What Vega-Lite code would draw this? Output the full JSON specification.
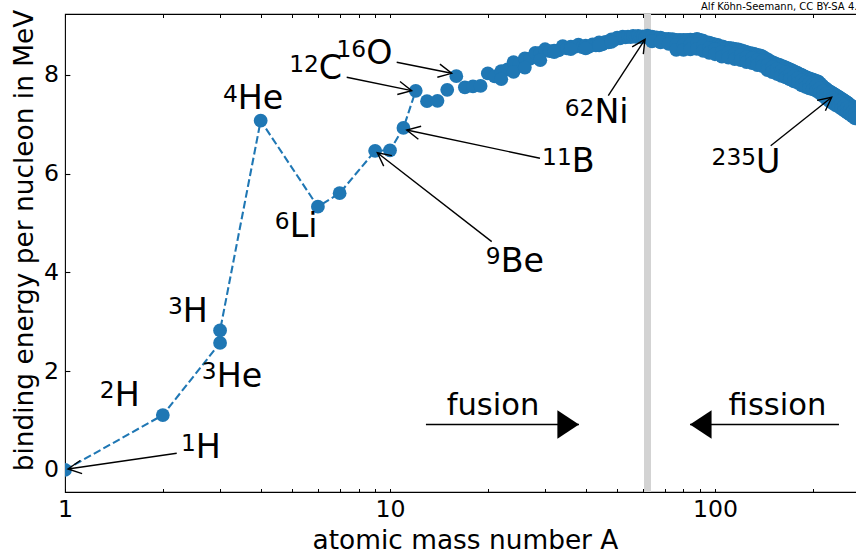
{
  "$schema": "https://vega.github.io/schema/vega-lite/v6.json",
  "width": 792,
  "height": 478,
  "autosize": {"type": "none"},
  "padding": {"left": 65, "top": 14, "right": 0, "bottom": 65},
  "config": {"font": "DejaVu Sans", "view": {"stroke": "black", "strokeWidth": 1.1}, "axis": {"grid": false, "labelOverlap": false, "labelFlush": false, "labelBound": false}},
  "datasets": {
    "band62": [{"A": 62}],
    "credit": [{"t": "Alf Köhn-Seemann, CC BY-SA 4.0", "A": 90.57, "E": 9.3165}],
    "pts": [
      {"A":1,"E":0,"s":"l","i":1},{"A":2,"E":1.112,"s":"l","i":2},{"A":3,"E":2.573,"s":"l","i":3},{"A":3,"E":2.827,"s":"l","i":4},{"A":4,"E":7.074,"s":"l","i":5},{"A":6,"E":5.332,"s":"l","i":6},{"A":7,"E":5.606,"s":"l","i":7},{"A":9,"E":6.463,"s":"l","i":8},{"A":10,"E":6.475,"s":"l","i":9},{"A":11,"E":6.928,"s":"l","i":10},{"A":12,"E":7.68,"s":"l","i":11},
      {"A":13,"E":7.47,"s":"b"},{"A":14,"E":7.476,"s":"b"},{"A":15,"E":7.699,"s":"b"},{"A":16,"E":7.976,"s":"b"},{"A":17,"E":7.751,"s":"b"},{"A":18,"E":7.767,"s":"b"},{"A":19,"E":7.779,"s":"b"},{"A":20,"E":8.032,"s":"b"},{"A":21,"E":7.972,"s":"b"},{"A":22,"E":8.08,"s":"b"},{"A":23,"E":8.112,"s":"b"},{"A":24,"E":8.261,"s":"b"},{"A":25,"E":8.224,"s":"b"},{"A":26,"E":8.334,"s":"b"},{"A":27,"E":8.332,"s":"b"},{"A":28,"E":8.448,"s":"b"},{"A":29,"E":8.449,"s":"b"},{"A":30,"E":8.521,"s":"b"},{"A":31,"E":8.481,"s":"b"},{"A":32,"E":8.493,"s":"b"},{"A":33,"E":8.498,"s":"b"},{"A":34,"E":8.584,"s":"b"},{"A":35,"E":8.538,"s":"b"},{"A":36,"E":8.576,"s":"b"},{"A":37,"E":8.57,"s":"b"},{"A":38,"E":8.614,"s":"b"},{"A":39,"E":8.563,"s":"b"},{"A":40,"E":8.595,"s":"b"},{"A":41,"E":8.576,"s":"b"},{"A":42,"E":8.617,"s":"b"},{"A":43,"E":8.601,"s":"b"},{"A":44,"E":8.658,"s":"b"},{"A":45,"E":8.619,"s":"b"},{"A":46,"E":8.669,"s":"b"},{"A":47,"E":8.661,"s":"b"},{"A":48,"E":8.723,"s":"b"},{"A":49,"E":8.711,"s":"b"},{"A":50,"E":8.756,"s":"b"},{"A":51,"E":8.742,"s":"b"},{"A":52,"E":8.776,"s":"b"},{"A":53,"E":8.76,"s":"b"},{"A":54,"E":8.778,"s":"b"},{"A":55,"E":8.765,"s":"b"},{"A":56,"E":8.79,"s":"b"},{"A":57,"E":8.77,"s":"b"},{"A":58,"E":8.792,"s":"b"},{"A":59,"E":8.768,"s":"b"},{"A":60,"E":8.781,"s":"b"},{"A":61,"E":8.765,"s":"b"},{"A":62,"E":8.795,"s":"b"},{"A":63,"E":8.763,"s":"b"},{"A":64,"E":8.777,"s":"b"},{"A":65,"E":8.757,"s":"b"},{"A":66,"E":8.76,"s":"b"},{"A":67,"E":8.734,"s":"b"},{"A":68,"E":8.756,"s":"b"},{"A":69,"E":8.724,"s":"b"},{"A":70,"E":8.73,"s":"b"},{"A":71,"E":8.718,"s":"b"},{"A":72,"E":8.732,"s":"b"},{"A":73,"E":8.705,"s":"b"},{"A":74,"E":8.725,"s":"b"},{"A":75,"E":8.701,"s":"b"},{"A":76,"E":8.711,"s":"b"},{"A":77,"E":8.695,"s":"b"},{"A":78,"E":8.712,"s":"b"},{"A":79,"E":8.688,"s":"b"},{"A":80,"E":8.711,"s":"b"},{"A":81,"E":8.696,"s":"b"},{"A":82,"E":8.711,"s":"b"},{"A":83,"E":8.696,"s":"b"},{"A":84,"E":8.718,"s":"b"},{"A":85,"E":8.698,"s":"b"},{"A":86,"E":8.712,"s":"b"},{"A":87,"E":8.705,"s":"b"},{"A":88,"E":8.733,"s":"b"},{"A":89,"E":8.714,"s":"b"},{"A":90,"E":8.71,"s":"b"},
      {"A":92,"E":8.693,"s":"b"},{"A":94,"E":8.667,"s":"b"},{"A":96,"E":8.654,"s":"b"},{"A":98,"E":8.635,"s":"b"},{"A":100,"E":8.619,"s":"b"},{"A":102,"E":8.607,"s":"b"},{"A":104,"E":8.584,"s":"b"},{"A":106,"E":8.574,"s":"b"},{"A":108,"E":8.55,"s":"b"},{"A":110,"E":8.551,"s":"b"},{"A":112,"E":8.545,"s":"b"},{"A":114,"E":8.532,"s":"b"},{"A":116,"E":8.523,"s":"b"},{"A":118,"E":8.516,"s":"b"},{"A":120,"E":8.505,"s":"b"},{"A":122,"E":8.488,"s":"b"},{"A":124,"E":8.473,"s":"b"},{"A":126,"E":8.455,"s":"b"},{"A":128,"E":8.443,"s":"b"},{"A":130,"E":8.437,"s":"b"},{"A":132,"E":8.428,"s":"b"},{"A":134,"E":8.414,"s":"b"},{"A":136,"E":8.4,"s":"b"},{"A":138,"E":8.393,"s":"b"},{"A":140,"E":8.376,"s":"b"},{"A":142,"E":8.346,"s":"b"},{"A":144,"E":8.327,"s":"b"},{"A":146,"E":8.304,"s":"b"},{"A":148,"E":8.277,"s":"b"},{"A":150,"E":8.262,"s":"b"},{"A":152,"E":8.244,"s":"b"},{"A":154,"E":8.227,"s":"b"},{"A":156,"E":8.215,"s":"b"},{"A":158,"E":8.202,"s":"b"},{"A":160,"E":8.184,"s":"b"},{"A":162,"E":8.173,"s":"b"},{"A":164,"E":8.158,"s":"b"},{"A":166,"E":8.142,"s":"b"},{"A":168,"E":8.13,"s":"b"},{"A":170,"E":8.112,"s":"b"},{"A":172,"E":8.097,"s":"b"},{"A":174,"E":8.084,"s":"b"},{"A":176,"E":8.064,"s":"b"},{"A":178,"E":8.052,"s":"b"},{"A":180,"E":8.035,"s":"b"},{"A":182,"E":8.018,"s":"b"},{"A":184,"E":8.005,"s":"b"},{"A":186,"E":7.991,"s":"b"},{"A":188,"E":7.973,"s":"b"},{"A":190,"E":7.962,"s":"b"},{"A":192,"E":7.948,"s":"b"},{"A":194,"E":7.936,"s":"b"},{"A":196,"E":7.922,"s":"b"},{"A":198,"E":7.914,"s":"b"},{"A":200,"E":7.906,"s":"b"},{"A":202,"E":7.897,"s":"b"},{"A":204,"E":7.88,"s":"b"},{"A":206,"E":7.875,"s":"b"},{"A":208,"E":7.867,"s":"b"},{"A":210,"E":7.834,"s":"b"},{"A":212,"E":7.805,"s":"b"},{"A":214,"E":7.782,"s":"b"},{"A":216,"E":7.756,"s":"b"},{"A":218,"E":7.735,"s":"b"},{"A":220,"E":7.717,"s":"b"},{"A":222,"E":7.695,"s":"b"},{"A":224,"E":7.68,"s":"b"},{"A":226,"E":7.662,"s":"b"},{"A":228,"E":7.646,"s":"b"},{"A":230,"E":7.631,"s":"b"},{"A":232,"E":7.615,"s":"b"},{"A":234,"E":7.601,"s":"b"},{"A":236,"E":7.586,"s":"b"},{"A":238,"E":7.57,"s":"b"},{"A":240,"E":7.556,"s":"b"},{"A":242,"E":7.541,"s":"b"},{"A":244,"E":7.525,"s":"b"},{"A":246,"E":7.51,"s":"b"},{"A":248,"E":7.497,"s":"b"},{"A":250,"E":7.482,"s":"b"},{"A":252,"E":7.465,"s":"b"},{"A":254,"E":7.45,"s":"b"},{"A":256,"E":7.434,"s":"b"},{"A":258,"E":7.416,"s":"b"},{"A":260,"E":7.399,"s":"b"},{"A":262,"E":7.381,"s":"b"},{"A":264,"E":7.366,"s":"b"},{"A":266,"E":7.349,"s":"b"},{"A":268,"E":7.333,"s":"b"},{"A":270,"E":7.316,"s":"b"},{"A":272,"E":7.3,"s":"b"},
      {"A":22,"E":7.916,"s":"b"},{"A":24,"E":8.063,"s":"b"},{"A":26,"E":8.15,"s":"b"},{"A":29,"E":8.3,"s":"b"},{"A":32,"E":8.464,"s":"b"},{"A":36,"E":8.522,"s":"b"},{"A":40,"E":8.538,"s":"b"},{"A":44,"E":8.6,"s":"b"},{"A":48,"E":8.67,"s":"b"},
      {"A":64,"E":8.68,"s":"b"},{"A":68,"E":8.66,"s":"b"},{"A":72,"E":8.63,"s":"b"},
      {"A":76,"E":8.61,"s":"b"},{"A":76,"E":8.51,"s":"b"},{"A":80,"E":8.61,"s":"b"},{"A":80,"E":8.51,"s":"b"},{"A":84,"E":8.62,"s":"b"},{"A":84,"E":8.52,"s":"b"},{"A":88,"E":8.63,"s":"b"},{"A":88,"E":8.53,"s":"b"},{"A":92,"E":8.59,"s":"b"},{"A":92,"E":8.49,"s":"b"},{"A":96,"E":8.55,"s":"b"},{"A":96,"E":8.45,"s":"b"},{"A":100,"E":8.52,"s":"b"},{"A":100,"E":8.42,"s":"b"},{"A":105,"E":8.47,"s":"b"},{"A":105,"E":8.37,"s":"b"},{"A":110,"E":8.45,"s":"b"},{"A":110,"E":8.35,"s":"b"},{"A":115,"E":8.42,"s":"b"},{"A":115,"E":8.32,"s":"b"},{"A":120,"E":8.4,"s":"b"},{"A":120,"E":8.3,"s":"b"},{"A":125,"E":8.36,"s":"b"},{"A":125,"E":8.26,"s":"b"},{"A":130,"E":8.34,"s":"b"},{"A":130,"E":8.24,"s":"b"},{"A":135,"E":8.3,"s":"b"},{"A":135,"E":8.2,"s":"b"},{"A":140,"E":8.28,"s":"b"},{"A":140,"E":8.18,"s":"b"},{"A":145,"E":8.2,"s":"b"},{"A":145,"E":8.1,"s":"b"},{"A":150,"E":8.16,"s":"b"},{"A":150,"E":8.06,"s":"b"},{"A":155,"E":8.12,"s":"b"},{"A":155,"E":8.02,"s":"b"},{"A":160,"E":8.08,"s":"b"},{"A":160,"E":7.98,"s":"b"},{"A":165,"E":8.05,"s":"b"},{"A":165,"E":7.95,"s":"b"},{"A":170,"E":8.01,"s":"b"},{"A":170,"E":7.91,"s":"b"},{"A":175,"E":7.97,"s":"b"},{"A":175,"E":7.87,"s":"b"},{"A":180,"E":7.94,"s":"b"},{"A":180,"E":7.84,"s":"b"},{"A":185,"E":7.89,"s":"b"},{"A":185,"E":7.79,"s":"b"},{"A":190,"E":7.86,"s":"b"},{"A":190,"E":7.76,"s":"b"},{"A":195,"E":7.83,"s":"b"},{"A":195,"E":7.73,"s":"b"},{"A":200,"E":7.81,"s":"b"},{"A":200,"E":7.71,"s":"b"},{"A":205,"E":7.78,"s":"b"},{"A":205,"E":7.68,"s":"b"},{"A":210,"E":7.73,"s":"b"},{"A":210,"E":7.63,"s":"b"},{"A":215,"E":7.67,"s":"b"},{"A":215,"E":7.57,"s":"b"},{"A":220,"E":7.62,"s":"b"},{"A":220,"E":7.52,"s":"b"},{"A":225,"E":7.57,"s":"b"},{"A":225,"E":7.47,"s":"b"},{"A":230,"E":7.53,"s":"b"},{"A":230,"E":7.43,"s":"b"},{"A":235,"E":7.49,"s":"b"},{"A":235,"E":7.39,"s":"b"},{"A":240,"E":7.46,"s":"b"},{"A":240,"E":7.36,"s":"b"},{"A":245,"E":7.42,"s":"b"},{"A":245,"E":7.32,"s":"b"},{"A":250,"E":7.38,"s":"b"},{"A":250,"E":7.28,"s":"b"},{"A":255,"E":7.34,"s":"b"},{"A":255,"E":7.24,"s":"b"},{"A":260,"E":7.3,"s":"b"},{"A":260,"E":7.2,"s":"b"},{"A":265,"E":7.26,"s":"b"},{"A":265,"E":7.16,"s":"b"},{"A":270,"E":7.22,"s":"b"},{"A":270,"E":7.12,"s":"b"}
    ],
    "ann": [
      {"n":"1H","sup":"1","el":"H","A":2.525,"E":0.237,"A0":2.207,"E0":0.338,"A1":1.0215,"E1":0.02},
      {"n":"2H","sup":"2","el":"H","A":1.422,"E":1.296},
      {"n":"3H","sup":"3","el":"H","A":2.303,"E":3.004},
      {"n":"3He","sup":"3","el":"He","A":2.929,"E":1.687},
      {"n":"4He","sup":"4","el":"He","A":3.4,"E":7.305},
      {"n":"6Li","sup":"6","el":"Li","A":4.913,"E":4.725},
      {"n":"9Be","sup":"9","el":"Be","A":21.91,"E":4.016,"A0":20.56,"E0":4.624,"A1":9.14,"E1":6.426},
      {"n":"11B","sup":"11","el":"B","A":36.24,"E":6.029,"A0":28.94,"E0":6.313,"A1":11.26,"E1":6.886},
      {"n":"12C","sup":"12","el":"C","A":6.041,"E":7.909,"A0":7.357,"E0":7.953,"A1":11.66,"E1":7.682},
      {"n":"16O","sup":"16","el":"O","A":8.449,"E":8.213,"A0":10.486,"E0":8.257,"A1":15.48,"E1":8.034},
      {"n":"62Ni","sup":"62","el":"Ni","A":42.56,"E":7.022,"A0":46.95,"E0":7.581,"A1":60.9,"E1":8.723},
      {"n":"235U","sup":"235","el":"U","A":133.8,"E":6.019,"A0":148.4,"E0":6.568,"A1":228.6,"E1":7.548}
    ],
    "fx": [
      {"t":"fusion","A":20.75,"E":1.114,"A0":12.9,"A1":38.15,"Ey":0.9215},
      {"t":"fission","A":155.7,"E":1.114,"A0":240.7,"A1":83.77,"Ey":0.9215}
    ]
  },
  "resolve": {"axis": {"x": "independent", "y": "independent"}},
  "layer": [
    {
      "data": {"name": "band62"},
      "mark": {"type": "rule", "color": "#d3d3d3", "strokeWidth": 7},
      "encoding": {"x": {"field": "A", "type": "quantitative", "scale": {"type": "log", "domain": [1, 273.5], "nice": false}, "axis": null}}
    },
    {
      "data": {"name": "pts"},
      "transform": [{"filter": "datum.s == 'l'"}],
      "mark": {"type": "line", "color": "#1f77b4", "strokeWidth": 2.08, "strokeDash": [7.7, 3.3], "clip": true},
      "encoding": {
        "x": {"field": "A", "type": "quantitative", "scale": {"type": "log", "domain": [1, 273.5], "nice": false},
          "axis": {"orient": "top", "values": [1,2,3,4,5,6,7,8,9,10,20,30,40,50,60,70,80,90,100,200], "labels": false, "title": null, "domain": false,
            "tickSize": -3.5, "tickColor": "black", "tickWidth": 1}},
        "y": {"field": "E", "type": "quantitative", "scale": {"domain": [-0.446, 9.235], "nice": false, "zero": false}, "axis": null},
        "order": {"field": "i"}
      }
    },
    {
      "data": {"name": "pts"},
      "mark": {"type": "circle", "color": "#1f77b4", "opacity": 1, "size": 190, "clip": true},
      "encoding": {
        "x": {"field": "A", "type": "quantitative", "scale": {"type": "log", "domain": [1, 273.5], "nice": false},
          "axis": {"orient": "bottom", "values": [1,2,3,4,5,6,7,8,9,10,20,30,40,50,60,70,80,90,100,200],
            "labelExpr": "datum.value == 1 ? '1' : datum.value == 10 ? '10' : datum.value == 100 ? '100' : ''",
            "domain": false, "tickSize": -3.5, "tickColor": "black", "tickWidth": 1,
            "labelFontSize": 23.6, "labelColor": "black", "labelPadding": 28.2, "labelBaseline": "alphabetic",
            "title": "atomic mass number A", "titleFontSize": 26.4, "titleFontWeight": "normal", "titleColor": "black",
            "titleX": 400, "titleY": 56, "titleBaseline": "alphabetic", "titleAlign": "center"}},
        "y": {"field": "E", "type": "quantitative", "scale": {"domain": [-0.446, 9.235], "nice": false, "zero": false},
          "axis": {"orient": "left", "values": [0, 2, 4, 6, 8], "domain": false, "tickSize": -4.86, "tickColor": "black", "tickWidth": 1.1,
            "labelFontSize": 23.6, "labelColor": "black", "labelPadding": 11.3,
            "title": "binding energy per nucleon in MeV", "titleFontSize": 26.4, "titleFontWeight": "normal", "titleColor": "black",
            "titleX": -32.2, "titleY": 226, "titleBaseline": "alphabetic", "titleAlign": "center"}}
      }
    },
    {
      "data": {"name": "ann"},
      "transform": [{"filter": "isValid(datum.A0)"}],
      "mark": {"type": "rule", "color": "black", "strokeWidth": 1.39},
      "encoding": {
        "x": {"field": "A0", "type": "quantitative", "scale": {"type": "log", "domain": [1, 273.5], "nice": false}, "axis": null},
        "y": {"field": "E0", "type": "quantitative", "scale": {"domain": [-0.446, 9.235], "nice": false, "zero": false}, "axis": null},
        "x2": {"field": "A1"},
        "y2": {"field": "E1"}
      }
    },
    {"data": {"name": "ann"}, "transform": [{"filter": "datum.n == '1H'"}], "mark": {"type": "point", "shape": "M-2,-1L0,0L-2,1", "size": 177, "filled": false, "stroke": "black", "strokeWidth": 1.39, "angle": 171.8, "opacity": 1}, "encoding": {"x": {"field": "A1", "type": "quantitative", "scale": {"type": "log", "domain": [1, 273.5], "nice": false}, "axis": null}, "y": {"field": "E1", "type": "quantitative", "scale": {"domain": [-0.446, 9.235], "nice": false, "zero": false}, "axis": null}}},
    {"data": {"name": "ann"}, "transform": [{"filter": "datum.n == '12C'"}], "mark": {"type": "point", "shape": "M-2,-1L0,0L-2,1", "size": 177, "filled": false, "stroke": "black", "strokeWidth": 1.39, "angle": 11.65, "opacity": 1}, "encoding": {"x": {"field": "A1", "type": "quantitative", "scale": {"type": "log", "domain": [1, 273.5], "nice": false}, "axis": null}, "y": {"field": "E1", "type": "quantitative", "scale": {"domain": [-0.446, 9.235], "nice": false, "zero": false}, "axis": null}}},
    {"data": {"name": "ann"}, "transform": [{"filter": "datum.n == '16O'"}], "mark": {"type": "point", "shape": "M-2,-1L0,0L-2,1", "size": 177, "filled": false, "stroke": "black", "strokeWidth": 1.39, "angle": 11.31, "opacity": 1}, "encoding": {"x": {"field": "A1", "type": "quantitative", "scale": {"type": "log", "domain": [1, 273.5], "nice": false}, "axis": null}, "y": {"field": "E1", "type": "quantitative", "scale": {"domain": [-0.446, 9.235], "nice": false, "zero": false}, "axis": null}}},
    {"data": {"name": "ann"}, "transform": [{"filter": "datum.n == '11B'"}], "mark": {"type": "point", "shape": "M-2,-1L0,0L-2,1", "size": 177, "filled": false, "stroke": "black", "strokeWidth": 1.39, "angle": 192.0, "opacity": 1}, "encoding": {"x": {"field": "A1", "type": "quantitative", "scale": {"type": "log", "domain": [1, 273.5], "nice": false}, "axis": null}, "y": {"field": "E1", "type": "quantitative", "scale": {"domain": [-0.446, 9.235], "nice": false, "zero": false}, "axis": null}}},
    {"data": {"name": "ann"}, "transform": [{"filter": "datum.n == '9Be'"}], "mark": {"type": "point", "shape": "M-2,-1L0,0L-2,1", "size": 177, "filled": false, "stroke": "black", "strokeWidth": 1.39, "angle": 217.9, "opacity": 1}, "encoding": {"x": {"field": "A1", "type": "quantitative", "scale": {"type": "log", "domain": [1, 273.5], "nice": false}, "axis": null}, "y": {"field": "E1", "type": "quantitative", "scale": {"domain": [-0.446, 9.235], "nice": false, "zero": false}, "axis": null}}},
    {"data": {"name": "ann"}, "transform": [{"filter": "datum.n == '62Ni'"}], "mark": {"type": "point", "shape": "M-2,-1L0,0L-2,1", "size": 177, "filled": false, "stroke": "black", "strokeWidth": 1.39, "angle": 303.06, "opacity": 1}, "encoding": {"x": {"field": "A1", "type": "quantitative", "scale": {"type": "log", "domain": [1, 273.5], "nice": false}, "axis": null}, "y": {"field": "E1", "type": "quantitative", "scale": {"domain": [-0.446, 9.235], "nice": false, "zero": false}, "axis": null}}},
    {"data": {"name": "ann"}, "transform": [{"filter": "datum.n == '235U'"}], "mark": {"type": "point", "shape": "M-2,-1L0,0L-2,1", "size": 177, "filled": false, "stroke": "black", "strokeWidth": 1.39, "angle": 321.57, "opacity": 1}, "encoding": {"x": {"field": "A1", "type": "quantitative", "scale": {"type": "log", "domain": [1, 273.5], "nice": false}, "axis": null}, "y": {"field": "E1", "type": "quantitative", "scale": {"domain": [-0.446, 9.235], "nice": false, "zero": false}, "axis": null}}},
    {
      "data": {"name": "ann"},
      "mark": {"type": "text", "align": "right", "baseline": "alphabetic", "fontSize": 23.3, "dy": -7.6, "color": "black"},
      "encoding": {
        "x": {"field": "A", "type": "quantitative", "scale": {"type": "log", "domain": [1, 273.5], "nice": false}, "axis": null},
        "y": {"field": "E", "type": "quantitative", "scale": {"domain": [-0.446, 9.235], "nice": false, "zero": false}, "axis": null},
        "text": {"field": "sup"}
      }
    },
    {
      "data": {"name": "ann"},
      "mark": {"type": "text", "align": "left", "baseline": "alphabetic", "fontSize": 33.3, "color": "black"},
      "encoding": {
        "x": {"field": "A", "type": "quantitative", "scale": {"type": "log", "domain": [1, 273.5], "nice": false}, "axis": null},
        "y": {"field": "E", "type": "quantitative", "scale": {"domain": [-0.446, 9.235], "nice": false, "zero": false}, "axis": null},
        "text": {"field": "el"}
      }
    },
    {
      "data": {"name": "fx"},
      "mark": {"type": "rule", "color": "black", "strokeWidth": 1.39},
      "encoding": {
        "x": {"field": "A0", "type": "quantitative", "scale": {"type": "log", "domain": [1, 273.5], "nice": false}, "axis": null},
        "x2": {"field": "A1"},
        "y": {"field": "Ey", "type": "quantitative", "scale": {"domain": [-0.446, 9.235], "nice": false, "zero": false}, "axis": null}
      }
    },
    {"data": {"name": "fx"}, "transform": [{"filter": "datum.t == 'fusion'"}], "mark": {"type": "point", "shape": "M0,0L-1.52,-1L-1.52,1Z", "size": 806, "filled": true, "color": "black", "opacity": 1, "angle": 0}, "encoding": {"x": {"field": "A1", "type": "quantitative", "scale": {"type": "log", "domain": [1, 273.5], "nice": false}, "axis": null}, "y": {"field": "Ey", "type": "quantitative", "scale": {"domain": [-0.446, 9.235], "nice": false, "zero": false}, "axis": null}}},
    {"data": {"name": "fx"}, "transform": [{"filter": "datum.t == 'fission'"}], "mark": {"type": "point", "shape": "M0,0L-1.52,-1L-1.52,1Z", "size": 806, "filled": true, "color": "black", "opacity": 1, "angle": 180}, "encoding": {"x": {"field": "A1", "type": "quantitative", "scale": {"type": "log", "domain": [1, 273.5], "nice": false}, "axis": null}, "y": {"field": "Ey", "type": "quantitative", "scale": {"domain": [-0.446, 9.235], "nice": false, "zero": false}, "axis": null}}},
    {
      "data": {"name": "fx"},
      "mark": {"type": "text", "align": "center", "baseline": "alphabetic", "fontSize": 30.6, "color": "black"},
      "encoding": {
        "x": {"field": "A", "type": "quantitative", "scale": {"type": "log", "domain": [1, 273.5], "nice": false}, "axis": null},
        "y": {"field": "E", "type": "quantitative", "scale": {"domain": [-0.446, 9.235], "nice": false, "zero": false}, "axis": null},
        "text": {"field": "t"}
      }
    },
    {
      "data": {"name": "credit"},
      "mark": {"type": "text", "align": "left", "baseline": "alphabetic", "fontSize": 10, "color": "black"},
      "encoding": {
        "x": {"field": "A", "type": "quantitative", "scale": {"type": "log", "domain": [1, 273.5], "nice": false}, "axis": null},
        "y": {"field": "E", "type": "quantitative", "scale": {"domain": [-0.446, 9.235], "nice": false, "zero": false}, "axis": null},
        "text": {"field": "t"}
      }
    }
  ]
}
